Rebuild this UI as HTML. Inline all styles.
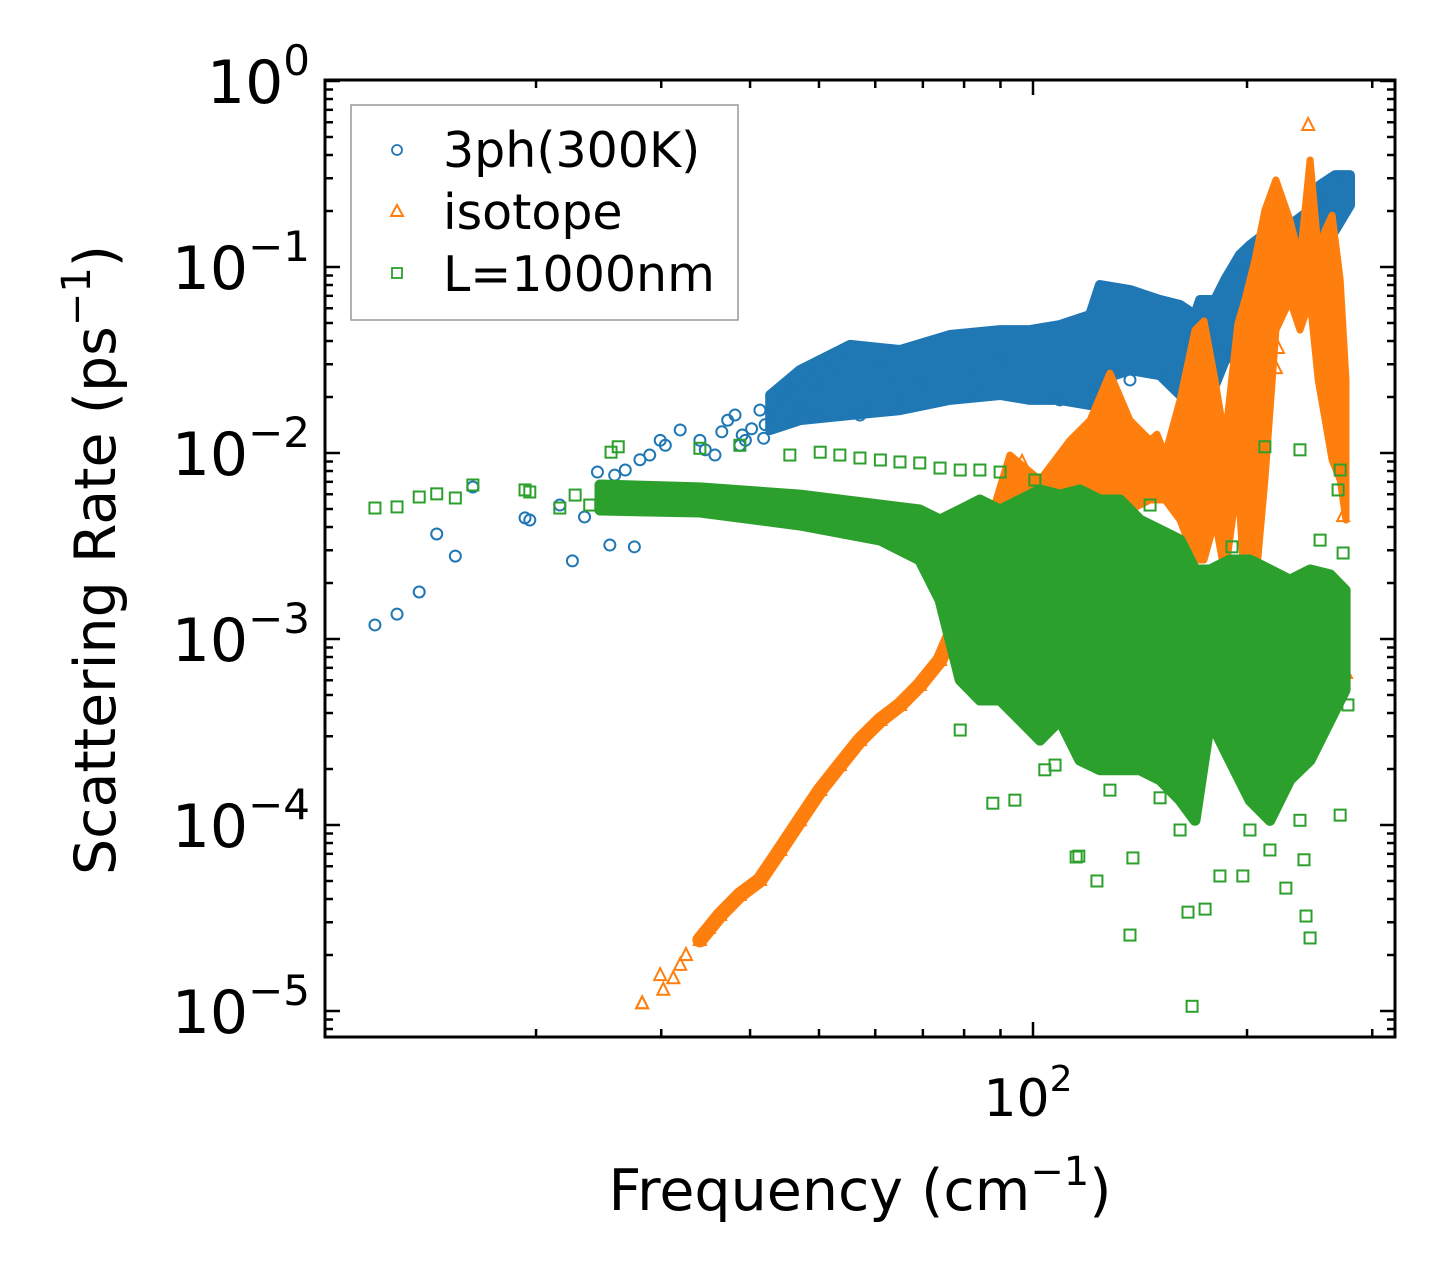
<!DOCTYPE html>
<html><head><meta charset="utf-8">
<style>
html,body{margin:0;padding:0;background:#fff;}
svg{display:block;font-family:"DejaVu Sans","Liberation Sans",sans-serif;}
</style></head>
<body>
<svg id="chart" width="1455" height="1287" viewBox="0 0 1455 1287" xmlns="http://www.w3.org/2000/svg">
<rect x="0" y="0" width="1455" height="1287" fill="#fff"/>
<g id="plot"></g>
<g id="axes"></g>
</svg>
<script>
// ---------- data ----------
const yDecades = [0, -1, -2, -3, -4, -5];
const xMinorTicks = [20, 30, 40, 50, 60, 70, 80, 90, 200, 300];
const xMajorTicks = [100];

// 3ph(300K) scattered points
const phFreq = [11.87,12.75,13.7,14.5,15.4,16.3,19.3,19.6,21.6,22.5,23.4,25.4,27.5,24.4,25.8,26.7,28.0,28.9,29.9,30.4,31.9,34.0,34.6,35.7,38.1,38.7,39.4,41.3,42.0,44.1,45.5,47.0,48.6,50.2,51.8,54.4,57.1,61.0,65.0,80.2,84.2,89.9,109.1,124.2,136.9,155.9,171.8,186.2,195.4,201.9,222.4,237.4,253.4,270.4,36.5,37.2,40.2,43.0,39.0,41.8,46.0,49.0,52.5,58.5,63.0,70.0];
const phRate = [1.19e-3,1.36e-3,1.79e-3,3.67e-3,2.79e-3,6.56e-3,4.48e-3,4.36e-3,5.25e-3,2.63e-3,4.53e-3,3.2e-3,3.13e-3,7.9e-3,7.6e-3,8.1e-3,9.2e-3,9.75e-3,1.17e-2,1.10e-2,1.33e-2,1.17e-2,1.04e-2,9.75e-3,1.60e-2,1.10e-2,1.17e-2,1.70e-2,1.42e-2,1.93e-2,2.18e-2,1.81e-2,2.47e-2,2.32e-2,2.79e-2,3.24e-2,1.60e-2,2.97e-2,1.93e-2,2.79e-2,2.05e-2,3.16e-2,1.93e-2,2.32e-2,2.47e-2,2.79e-2,2.18e-2,3.81e-2,9.6e-2,3.16e-2,6.25e-2,0.149,0.229,0.294,1.3e-2,1.5e-2,1.35e-2,1.6e-2,1.25e-2,1.2e-2,1.5e-2,1.7e-2,2.0e-2,1.8e-2,2.3e-2,2.4e-2];
// 3ph dense band envelope
const phBandFreq = [42.7,47.0,55.3,65.0,76.4,89.9,99.0,109.1,120.3,124.2,136.9,150.9,161.0,169.0,171.8,180.3,186.2,195.4,201.9,215.4,229.8,245.3,253.4,266.1,279.2];
const phBandHi = [2.05e-2,2.79e-2,3.81e-2,3.58e-2,4.31e-2,4.58e-2,4.58e-2,4.88e-2,5.52e-2,8.0e-2,7.52e-2,6.65e-2,6.25e-2,5.52e-2,6.65e-2,6.65e-2,8.5e-2,0.116,0.131,0.158,0.168,0.202,0.276,0.312,0.312];
const phBandLo = [1.33e-2,1.50e-2,1.60e-2,1.70e-2,1.93e-2,2.05e-2,1.93e-2,1.93e-2,1.81e-2,2.47e-2,2.79e-2,2.62e-2,2.05e-2,2.05e-2,2.47e-2,2.32e-2,3.16e-2,3.58e-2,5.19e-2,6.65e-2,6.65e-2,8.5e-2,0.123,0.158,0.215];

// isotope low-frequency trend
const isoFreq = [28.2,29.9,31.9,34.0,36.3,38.7,41.3,44.1,47.0,50.2,53.5,57.1,61.0,65.0,69.3,74.0,77.7,80.2,82.9,85.6,88.4];
const isoRate = [1.10e-5,1.56e-5,1.77e-5,2.41e-5,3.28e-5,4.21e-5,5.06e-5,7.34e-5,1.06e-4,1.54e-4,2.10e-4,2.86e-4,3.67e-4,4.42e-4,5.66e-4,7.71e-4,1.19e-3,1.52e-3,2.21e-3,3.40e-3,4.94e-3];
// isotope high-frequency peaks envelope
const isoBandFreq = [79.0,87.0,92.8,102.3,112.7,120.3,128.3,136.9,146.1,149.4,153.4,161.0,169.0,174.0,180.3,186.2,194.1,198.6,205.2,211.9,219.6,229.8,237.4,245.3,251.8,257.6,263.4,270.4,275.6];
const isoBandHi = [1.62e-3,4.36e-3,9.75e-3,7.16e-3,1.17e-2,1.50e-2,2.69e-2,1.50e-2,1.17e-2,1.26e-2,9.75e-3,1.93e-2,4.58e-2,5.13e-2,2.47e-2,1.17e-2,4.94e-2,6.65e-2,0.109,0.202,0.294,0.179,0.109,0.376,0.123,0.158,0.190,8.5e-2,2.47e-2];
const isoBandLo = [9.9e-4,2.66e-3,3.40e-3,3.85e-3,4.36e-3,4.94e-3,4.36e-3,4.94e-3,5.59e-3,5.59e-3,5.59e-3,4.36e-3,2.66e-3,2.66e-3,4.36e-3,2.21e-3,7.16e-3,1.83e-3,1.83e-3,7.16e-3,4.58e-2,6.65e-2,4.58e-2,6.65e-2,2.47e-2,1.50e-2,9.17e-3,7.16e-3,4.36e-3];
const isoOutFreq = [243.8,221.1,219.6,273.0,96.5,145.1,176.3,195.4,116.4,275.6,28.2,30.2,31.2,32.5,35.0];
const isoOutRate = [0.58,3.67e-2,2.86e-2,4.58e-3,8.95e-3,5.87e-3,5.8e-3,5.59e-3,8.1e-3,6.56e-4,1.10e-5,1.3e-5,1.5e-5,2.0e-5,2.8e-5];

// L=1000nm
const bdFreq = [11.87,12.75,13.7,14.5,15.4,16.3,19.3,19.6,21.6,22.7,23.8,25.5,26.1,34.0,38.7,45.5,50.2,53.5,57.1,61.0,65.0,69.3,74.0,79.0,84.2,89.9,78.2,76.0,167.4,115,116,136.9,138.2,123,165.2,174.6,197.3,245.3,242.1,226.8,94.3,87.8,150.9,183.2,268.6,277.3,270.4,237.4,211.9,190.5,253.4,273.0,103.9,79.0,107.4,128.3,161.0,201.9,215.4,237.4,270.4,240.5,100.6,146.1];
const bdRate = [5.06e-3,5.13e-3,5.8e-3,6.03e-3,5.73e-3,6.73e-3,6.33e-3,6.17e-3,5.06e-3,5.94e-3,5.25e-3,1.01e-2,1.08e-2,1.06e-2,1.10e-2,9.75e-3,1.01e-2,9.75e-3,9.4e-3,9.17e-3,8.95e-3,8.84e-3,8.3e-3,8.1e-3,8.1e-3,7.9e-3,2.24e-3,2.16e-3,1.06e-5,6.73e-5,6.8e-5,2.56e-5,6.65e-5,5.0e-5,3.4e-5,3.53e-5,5.32e-5,2.47e-5,3.24e-5,4.58e-5,1.36e-4,1.31e-4,1.4e-4,5.32e-5,6.33e-3,4.42e-4,8.1e-3,1.04e-2,1.08e-2,3.13e-3,3.40e-3,2.90e-3,1.98e-4,3.24e-4,2.10e-4,1.54e-4,9.4e-5,9.4e-5,7.34e-5,1.06e-4,1.13e-4,6.5e-5,7.16e-3,5.25e-3];
const bdBandFreq = [24.6,34.0,47.0,61.0,69.3,74.0,79.0,84.2,89.9,95.9,102.3,109.1,116.4,124.2,132.6,141.4,150.9,161.0,169.0,177.4,189.2,201.9,215.4,229.8,245.3,261.7,274.8];
const bdBandHi = [6.73e-3,6.49e-3,5.94e-3,5.25e-3,4.94e-3,4.36e-3,4.94e-3,5.59e-3,4.94e-3,5.59e-3,6.33e-3,5.94e-3,6.33e-3,5.59e-3,5.59e-3,4.36e-3,3.85e-3,3.40e-3,2.35e-3,2.35e-3,2.66e-3,2.66e-3,2.35e-3,2.07e-3,2.35e-3,2.21e-3,1.83e-3];
const bdBandLo = [4.94e-3,4.82e-3,4.1e-3,3.40e-3,2.66e-3,1.62e-3,6.03e-4,4.7e-4,4.7e-4,3.67e-4,2.86e-4,3.67e-4,2.23e-4,1.98e-4,1.98e-4,1.98e-4,1.75e-4,1.36e-4,1.06e-4,3.67e-4,2.23e-4,1.36e-4,1.06e-4,1.75e-4,2.23e-4,3.67e-4,5.32e-4];

// ---------- scales ----------
const PX0 = 325, PX1 = 1395, PY0 = 80, PY1 = 1037;
function xs(f){ return 1033 + 711 * Math.log10(f / 100); }
function ys(r){ return 81 - 186 * Math.log10(r); }

const NS = 'http://www.w3.org/2000/svg';
const plot = document.getElementById('plot');
const axes = document.getElementById('axes');
function mk(tag, attrs, parent){
  const e = document.createElementNS(NS, tag);
  for (const k in attrs) e.setAttribute(k, attrs[k]);
  parent.appendChild(e);
  return e;
}
const BLUE = '#1f77b4', ORANGE = '#ff7f0e', GREEN = '#2ca02c';

function bandPath(fr, hi, lo){
  let d = '';
  for (let i = 0; i < fr.length; i++) d += (i ? 'L' : 'M') + xs(fr[i]).toFixed(1) + ',' + ys(hi[i]).toFixed(1);
  for (let i = fr.length - 1; i >= 0; i--) d += 'L' + xs(fr[i]).toFixed(1) + ',' + ys(lo[i]).toFixed(1);
  return d + 'Z';
}
function circle(f, r, parent){
  const c = mk('circle', {cx: xs(f), cy: ys(r), r: 5.5, fill: 'none', stroke: BLUE, 'stroke-width': 2}, parent);
  
  
}
function tri(f, r, parent){
  const x = xs(f), y = ys(r);
  const p = mk('polygon', {points: `${x},${y-7} ${x-6},${y+5} ${x+6},${y+5}`, fill: 'none', stroke: ORANGE, 'stroke-width': 2}, parent);
  
  
}
function sq(f, r, parent){
  const s = mk('rect', {x: xs(f) - 5.5, y: ys(r) - 5.5, width: 11, height: 11, fill: 'none', stroke: GREEN, 'stroke-width': 2}, parent);
  
  
}

const defs = mk('defs', {}, plot);
const cp = mk('clipPath', {id: 'clip'}, defs);
mk('rect', {x: PX0, y: PY0, width: PX1 - PX0, height: PY1 - PY0}, cp);
const g = mk('g', {'clip-path': 'url(#clip)'}, plot);

// 3ph series
const gPh = mk('g', {}, g);


const phB = mk('path', {d: bandPath(phBandFreq, phBandHi, phBandLo), fill: BLUE, stroke: BLUE, 'stroke-width': 10, 'stroke-linejoin': 'round'}, gPh);


for (let i = 0; i < phFreq.length; i++) circle(phFreq[i], phRate[i], gPh);

// isotope series
const gIso = mk('g', {}, g);


let dl = '';
for (let i = 3; i < isoFreq.length; i++) dl += (i > 3 ? 'L' : 'M') + xs(isoFreq[i]).toFixed(1) + ',' + ys(isoRate[i]).toFixed(1);
const isoLine = mk('path', {d: dl, fill: 'none', stroke: ORANGE, 'stroke-width': 15, 'stroke-linejoin': 'round', 'stroke-linecap': 'round'}, gIso);


for (let i = 0; i < isoFreq.length; i++) tri(isoFreq[i], isoRate[i], gIso);
const isoB = mk('path', {d: bandPath(isoBandFreq, isoBandHi, isoBandLo), fill: ORANGE, stroke: ORANGE, 'stroke-width': 7, 'stroke-linejoin': 'round'}, gIso);


for (let i = 0; i < isoOutFreq.length; i++) tri(isoOutFreq[i], isoOutRate[i], gIso);

// boundary series
const gBd = mk('g', {}, g);


const bdB = mk('path', {d: bandPath(bdBandFreq, bdBandHi, bdBandLo), fill: GREEN, stroke: GREEN, 'stroke-width': 11, 'stroke-linejoin': 'round'}, gBd);


for (let i = 0; i < bdFreq.length; i++) sq(bdFreq[i], bdRate[i], gBd);

// ---------- axes ----------
const frame = mk('rect', {x: PX0, y: PY0, width: PX1 - PX0, height: PY1 - PY0, fill: 'none', stroke: '#000', 'stroke-width': 3}, axes);



function tick(x1, y1, x2, y2){ mk('line', {x1, y1, x2, y2, stroke: '#000', 'stroke-width': 2.5}, axes); }
for (const d of yDecades){
  const y = ys(Math.pow(10, d));
  tick(PX0, y, PX0 + 15, y); tick(PX1, y, PX1 - 15, y);
  for (let m = 2; m <= 9; m++){
    const yy = ys(m * Math.pow(10, d - 1));
    if (yy <= PY1 && yy >= PY0){ tick(PX0, yy, PX0 + 8, yy); tick(PX1, yy, PX1 - 8, yy); }
  }
  const t = mk('text', {x: 310, y: y + 22, 'text-anchor': 'end', 'font-size': 60, fill: '#000'}, axes);
  
  
  t.appendChild(document.createTextNode('10'));
  const s = mk('tspan', {dy: -28, 'font-size': 42}, t);
  s.textContent = d === 0 ? '0' : '\u2212' + (-d);
}
for (const f of xMinorTicks){ const x = xs(f); tick(x, PY1, x, PY1 - 8); tick(x, PY0, x, PY0 + 8); }
for (const f of xMajorTicks){
  const x = xs(f); tick(x, PY1, x, PY1 - 15); tick(x, PY0, x, PY0 + 15);
  const t = mk('text', {x: x - 5, y: 1116, 'text-anchor': 'middle', 'font-size': 52, fill: '#000'}, axes);
  
  
  t.appendChild(document.createTextNode('10'));
  const s = mk('tspan', {dy: -25, 'font-size': 36}, t);
  s.textContent = '2';
}
</script>
<script>
const svg = document.getElementById('chart');
svg.insertAdjacentHTML('beforeend', `
<text x="860" y="1210" text-anchor="middle" font-size="57" fill="#000">Frequency (cm<tspan dy="-25" font-size="40">\u22121</tspan><tspan dy="25">)</tspan></text>
<text transform="translate(115,560) rotate(-90)" text-anchor="middle" font-size="57" fill="#000">Scattering Rate (ps<tspan dy="-25" font-size="40">\u22121</tspan><tspan dy="25">)</tspan></text>
<g>
  <rect x="351" y="105" width="387" height="215" fill="#fff" fill-opacity="0.8" stroke="#999" stroke-width="1.5"/>
  <g>
    <circle cx="397" cy="150" r="5" fill="none" stroke="#1f77b4" stroke-width="1.8"/>
    <text x="443" y="167" font-size="49" fill="#000">3ph(300K)</text>
  </g>
  <g>
    <polygon points="397,205 391,216 403,216" fill="none" stroke="#ff7f0e" stroke-width="2"/>
    <text x="443" y="229" font-size="49" fill="#000">isotope</text>
  </g>
  <g>
    <rect x="392" y="268" width="10" height="10" fill="none" stroke="#2ca02c" stroke-width="1.8"/>
    <text x="443" y="291" font-size="49" fill="#000">L=1000nm</text>
  </g>
</g>`);
</script>
</body></html>
